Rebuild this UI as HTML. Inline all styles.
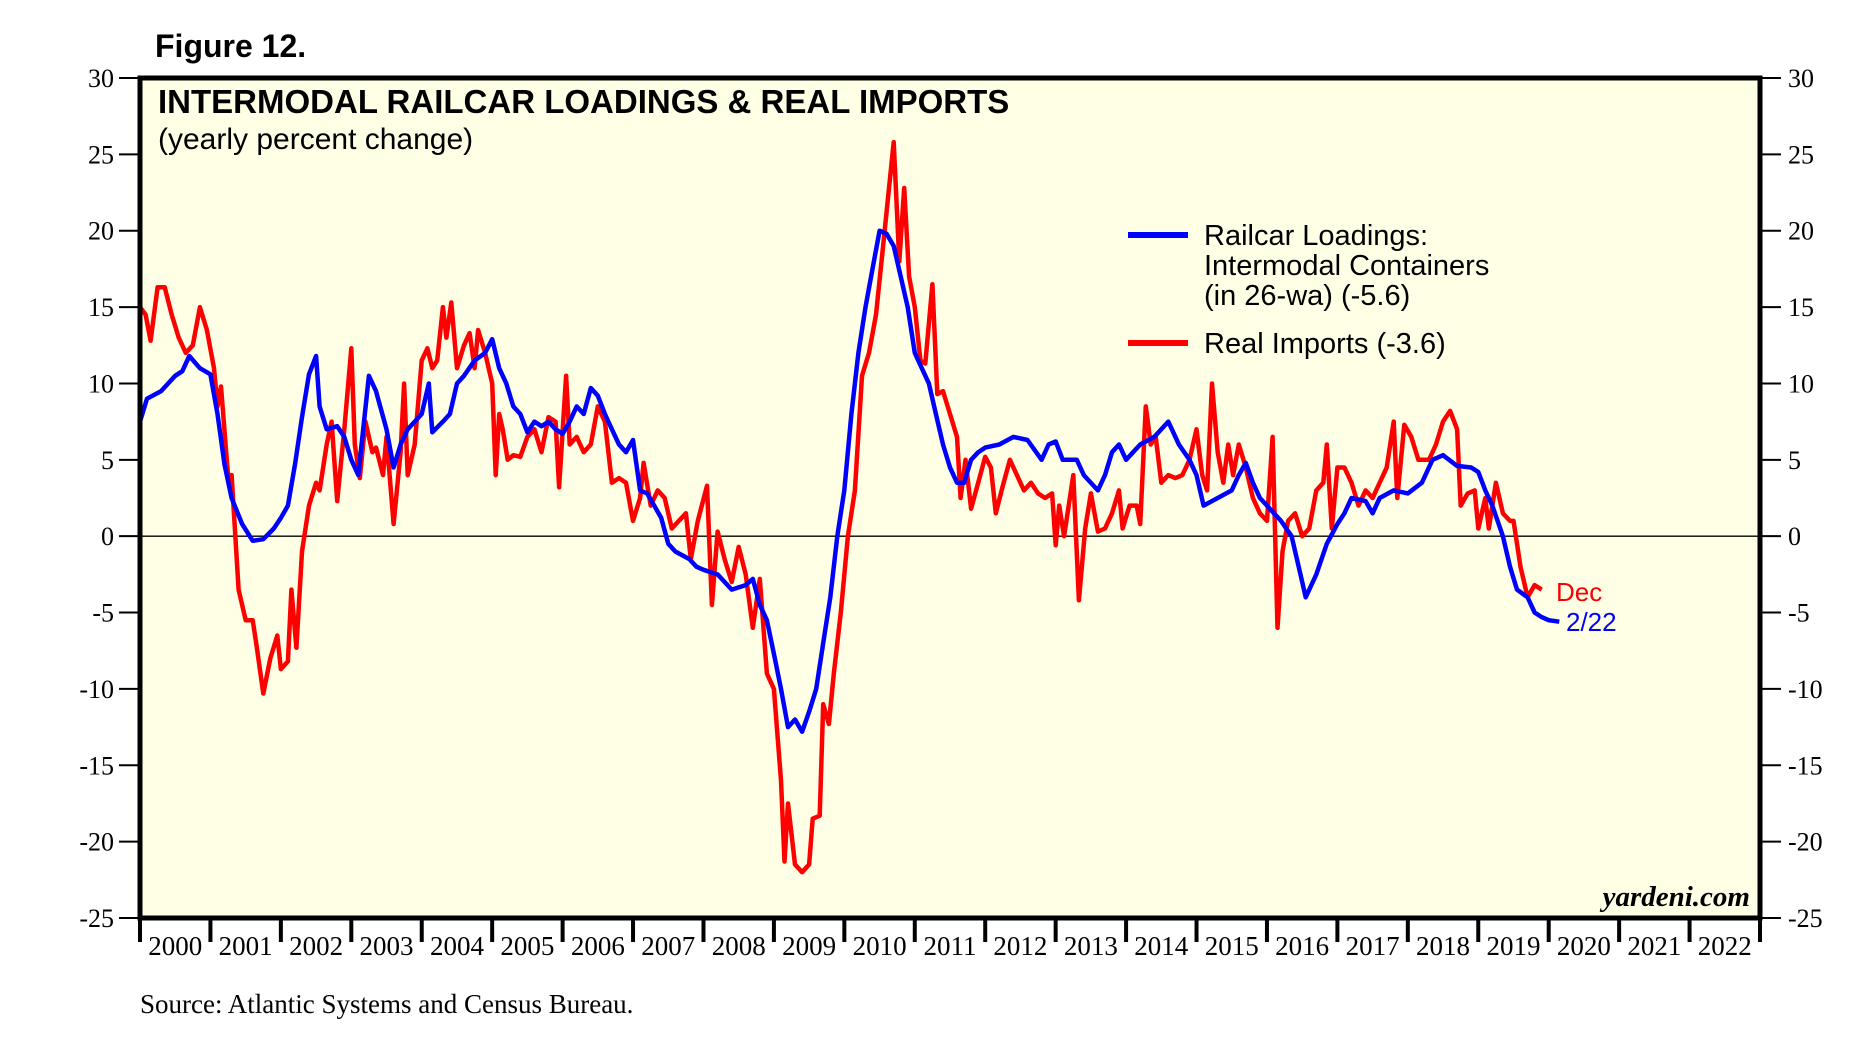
<!DOCTYPE html>
<html><head><meta charset="utf-8"><style>
body{margin:0;background:#fff;}
svg{display:block;}
</style></head><body>
<svg id="chart" width="1862" height="1051" xmlns="http://www.w3.org/2000/svg">
<text x="155" y="57" font-family="Liberation Sans, sans-serif" font-weight="bold" font-size="32">Figure 12.</text>
<rect x="140" y="78" width="1620" height="840" fill="#ffffe6"/>
<g id="grid"></g>
<g id="series"></g>
<rect x="140" y="78" width="1620" height="840" fill="none" stroke="#000" stroke-width="5"/>
<text x="158" y="113" font-family="Liberation Sans, sans-serif" font-weight="bold" font-size="33">INTERMODAL RAILCAR LOADINGS &amp; REAL IMPORTS</text>
<text x="158" y="149" font-family="Liberation Sans, sans-serif" font-size="30">(yearly percent change)</text>
<g>
<line x1="1128" y1="235" x2="1188" y2="235" stroke="#0000ff" stroke-width="6"/>
<text x="1204" y="245" font-family="Liberation Sans, sans-serif" font-size="29"><tspan x="1204">Railcar Loadings:</tspan><tspan x="1204" dy="30">Intermodal Containers</tspan><tspan x="1204" dy="30">(in 26-wa) (-5.6)</tspan></text>
<line x1="1128" y1="343" x2="1188" y2="343" stroke="#ff0000" stroke-width="6"/>
<text x="1204" y="353" font-family="Liberation Sans, sans-serif" font-size="29">Real Imports (-3.6)</text>
</g>
<text x="1556" y="601" fill="#ff0000" font-family="Liberation Sans, sans-serif" font-size="26">Dec</text>
<text x="1566" y="631" fill="#0000ff" font-family="Liberation Sans, sans-serif" font-size="26">2/22</text>
<text x="1750" y="906" text-anchor="end" font-family="Liberation Serif, serif" font-style="italic" font-weight="bold" font-size="29">yardeni.com</text>
<text x="140" y="1013" font-family="Liberation Serif, serif" font-size="27">Source: Atlantic Systems and Census Bureau.</text>
<g id="axes"></g>
</svg>
<script>
const yTicks=[30,25,20,15,10,5,0,-5,-10,-15,-20,-25];
const years=[2000,2001,2002,2003,2004,2005,2006,2007,2008,2009,2010,2011,2012,2013,2014,2015,2016,2017,2018,2019,2020,2021,2022];
const railT=[2000.0,2000.1,2000.3,2000.5,2000.6,2000.7,2000.85,2001.0,2001.1,2001.2,2001.3,2001.45,2001.6,2001.75,2001.9,2002.0,2002.1,2002.2,2002.3,2002.4,2002.5,2002.55,2002.65,2002.8,2002.9,2003.0,2003.1,2003.25,2003.35,2003.5,2003.6,2003.7,2003.8,2003.9,2004.0,2004.1,2004.15,2004.3,2004.4,2004.5,2004.6,2004.75,2004.9,2005.0,2005.1,2005.2,2005.3,2005.4,2005.5,2005.6,2005.7,2005.8,2005.9,2006.0,2006.1,2006.2,2006.3,2006.4,2006.5,2006.6,2006.7,2006.8,2006.9,2007.0,2007.1,2007.2,2007.3,2007.4,2007.5,2007.6,2007.8,2007.9,2008.0,2008.2,2008.4,2008.6,2008.7,2008.8,2008.9,2009.0,2009.1,2009.2,2009.3,2009.4,2009.5,2009.6,2009.7,2009.8,2009.9,2010.0,2010.1,2010.2,2010.3,2010.4,2010.5,2010.6,2010.7,2010.8,2010.9,2011.0,2011.1,2011.2,2011.3,2011.4,2011.5,2011.6,2011.7,2011.8,2011.9,2012.0,2012.2,2012.4,2012.6,2012.8,2012.9,2013.0,2013.1,2013.3,2013.4,2013.6,2013.7,2013.8,2013.9,2014.0,2014.2,2014.4,2014.6,2014.75,2014.9,2015.0,2015.1,2015.3,2015.5,2015.6,2015.7,2015.8,2015.9,2016.0,2016.1,2016.2,2016.35,2016.45,2016.55,2016.7,2016.85,2017.0,2017.1,2017.2,2017.4,2017.5,2017.6,2017.8,2018.0,2018.2,2018.35,2018.5,2018.7,2018.9,2019.0,2019.1,2019.2,2019.35,2019.45,2019.55,2019.7,2019.8,2019.9,2020.0,2020.15];
const railV=[7.5,9,9.5,10.5,10.8,11.8,11,10.6,8,4.7,2.5,0.8,-0.3,-0.2,0.5,1.2,2,4.7,7.8,10.6,11.8,8.5,7,7.2,6.5,5,4,10.5,9.5,7,4.5,6,7,7.5,8,10,6.8,7.5,8,10,10.5,11.5,12,12.9,11,10,8.5,8,6.8,7.5,7.2,7.5,7,6.7,7.5,8.5,8,9.7,9.2,8,7,6,5.5,6.3,3,2.8,2,1.2,-0.5,-1,-1.5,-2,-2.2,-2.5,-3.5,-3.2,-2.8,-4.5,-5.5,-7.7,-10,-12.5,-12,-12.8,-11.5,-10,-7,-4,0,3,8,12,15,17.5,20,19.8,19,17,15,12,11,10,8,6,4.5,3.5,3.5,5,5.5,5.8,6,6.5,6.3,5,6,6.2,5,5,4,3,4,5.5,6,5,6,6.5,7.5,6,5,4,2,2.5,3,4,4.8,3.5,2.5,2,1.5,1,0,-2,-4,-2.5,-0.5,0.8,1.5,2.5,2.3,1.5,2.5,3,2.8,3.5,5,5.3,4.6,4.5,4.2,3,2,0,-2,-3.5,-4,-5,-5.3,-5.5,-5.6];
const impT=[2000.0,2000.08,2000.15,2000.25,2000.35,2000.45,2000.55,2000.65,2000.75,2000.85,2000.95,2001.05,2001.1,2001.15,2001.25,2001.3,2001.4,2001.5,2001.6,2001.65,2001.75,2001.85,2001.95,2002.0,2002.1,2002.15,2002.22,2002.3,2002.4,2002.5,2002.55,2002.65,2002.72,2002.8,2002.9,2003.0,2003.05,2003.12,2003.2,2003.3,2003.35,2003.45,2003.5,2003.6,2003.7,2003.75,2003.8,2003.9,2004.0,2004.08,2004.15,2004.22,2004.3,2004.35,2004.42,2004.5,2004.6,2004.68,2004.75,2004.8,2004.9,2005.0,2005.05,2005.1,2005.15,2005.22,2005.3,2005.4,2005.5,2005.6,2005.7,2005.8,2005.9,2005.95,2006.05,2006.1,2006.2,2006.3,2006.4,2006.5,2006.6,2006.7,2006.8,2006.9,2007.0,2007.1,2007.15,2007.25,2007.35,2007.45,2007.55,2007.65,2007.75,2007.82,2007.92,2008.05,2008.12,2008.2,2008.3,2008.4,2008.5,2008.6,2008.7,2008.8,2008.9,2009.0,2009.1,2009.15,2009.2,2009.3,2009.4,2009.5,2009.55,2009.65,2009.7,2009.78,2009.85,2009.95,2010.05,2010.15,2010.25,2010.35,2010.45,2010.55,2010.7,2010.78,2010.85,2010.92,2011.0,2011.08,2011.15,2011.25,2011.32,2011.4,2011.5,2011.6,2011.65,2011.72,2011.8,2011.9,2012.0,2012.08,2012.15,2012.25,2012.35,2012.45,2012.55,2012.65,2012.75,2012.85,2012.95,2013.0,2013.05,2013.12,2013.25,2013.33,2013.42,2013.5,2013.6,2013.7,2013.8,2013.9,2013.95,2014.05,2014.15,2014.2,2014.28,2014.35,2014.42,2014.5,2014.6,2014.7,2014.8,2014.9,2015.0,2015.08,2015.15,2015.22,2015.3,2015.38,2015.45,2015.52,2015.6,2015.7,2015.8,2015.9,2016.0,2016.08,2016.15,2016.22,2016.3,2016.4,2016.5,2016.6,2016.7,2016.8,2016.85,2016.92,2017.0,2017.1,2017.2,2017.3,2017.4,2017.5,2017.6,2017.7,2017.8,2017.85,2017.95,2018.05,2018.15,2018.25,2018.3,2018.4,2018.5,2018.6,2018.7,2018.75,2018.85,2018.95,2019.0,2019.1,2019.15,2019.25,2019.35,2019.45,2019.5,2019.6,2019.7,2019.8,2019.9];
const impV=[15,14.5,12.8,16.3,16.3,14.5,13,12,12.5,15,13.5,11,8.5,9.8,4,4,-3.5,-5.5,-5.5,-7,-10.3,-8,-6.5,-8.7,-8.2,-3.5,-7.3,-1,2,3.5,3,6,7.5,2.3,7,12.3,6,3.8,7.5,5.5,5.8,4,6.5,0.8,5.5,10,4,6,11.5,12.3,11,11.5,15,13,15.3,11,12.5,13.3,11,13.5,12,10,4,8,7,5,5.3,5.2,6.5,7,5.5,7.8,7.5,3.2,10.5,6,6.5,5.5,6,8.5,7.5,3.5,3.8,3.5,1,2.5,4.8,2,3,2.5,0.5,1,1.5,-1.5,1,3.3,-4.5,0.3,-1.5,-3,-0.7,-2.5,-6,-2.8,-9,-10,-16,-21.3,-17.5,-21.5,-22,-21.5,-18.5,-18.3,-11,-12.3,-9,-5,0,3,10.5,12,14.5,19,25.8,18,22.8,17,15,11.5,11.3,16.5,9.3,9.5,8,6.5,2.5,5,1.8,3.5,5.2,4.5,1.5,3.3,5,4,3,3.5,2.8,2.5,2.8,-0.6,2,0,4,-4.2,0.5,2.8,0.3,0.5,1.5,3,0.5,2,2,0.8,8.5,6,6.5,3.5,4,3.8,4,5,7,4,3,10,5.5,3.5,6,4,6,4.5,2.5,1.5,1,6.5,-6,-1,1,1.5,0,0.5,3,3.5,6,0.5,4.5,4.5,3.5,2,3,2.5,3.5,4.5,7.5,2.5,7.3,6.5,5,5,5,6,7.5,8.2,7,2,2.8,3,0.5,2.5,0.5,3.5,1.5,1,1,-2,-4,-3.2,-3.5];

const L=140,R=1760,T=78,B=918,vMax=30,vMin=-25,t0=2000,t1=2023;
const xs=t=>L+(t-t0)*(R-L)/(t1-t0);
const ys=v=>T+(vMax-v)*(B-T)/(vMax-vMin);
const NS='http://www.w3.org/2000/svg';
function mk(tag,attrs,parent){const e=document.createElementNS(NS,tag);for(const k in attrs)e.setAttribute(k,attrs[k]);parent.appendChild(e);return e;}
const grid=document.getElementById('grid'),axes=document.getElementById('axes'),series=document.getElementById('series');
let z=mk('line',{x1:L,x2:R,y1:ys(0),y2:ys(0),stroke:'#000','stroke-width':1.3},grid);


yTicks.forEach(v=>{
  const y=ys(v);
  let a=mk('line',{x1:L-21,x2:L,y1:y,y2:y,stroke:'#000','stroke-width':2},axes);
  
  
  let b=mk('line',{x1:R,x2:R+21,y1:y,y2:y,stroke:'#000','stroke-width':2},axes);
  
  
  let t=mk('text',{x:L-26,y:y+9,'text-anchor':'end','font-family':'Liberation Serif, serif','font-size':26},axes);
  t.textContent=v;
  
  
  let t2=mk('text',{x:R+28,y:y+9,'font-family':'Liberation Serif, serif','font-size':26},axes);
  t2.textContent=v;
  
  
});
years.forEach(yr=>{
  const x=xs(yr);
  let k=mk('line',{x1:x,x2:x,y1:B,y2:B+24,stroke:'#000','stroke-width':4},axes);
  
  
  let t=mk('text',{x:xs(yr+0.5),y:B+37,'text-anchor':'middle','font-family':'Liberation Serif, serif','font-size':27},axes);
  t.textContent=yr;
  
  
});
let ek=mk('line',{x1:R,x2:R,y1:B,y2:B+24,stroke:'#000','stroke-width':4},axes);


function path(T_,V_){return T_.map((t,i)=>(i?'L':'M')+xs(t).toFixed(1)+','+ys(V_[i]).toFixed(1)).join('');}
let pr=mk('path',{d:path(impT,impV),fill:'none',stroke:'#ff0000','stroke-width':4.5,'stroke-linejoin':'round'},series);


let pb=mk('path',{d:path(railT,railV),fill:'none',stroke:'#0000ff','stroke-width':4.5,'stroke-linejoin':'round'},series);


</script>
</body></html>
